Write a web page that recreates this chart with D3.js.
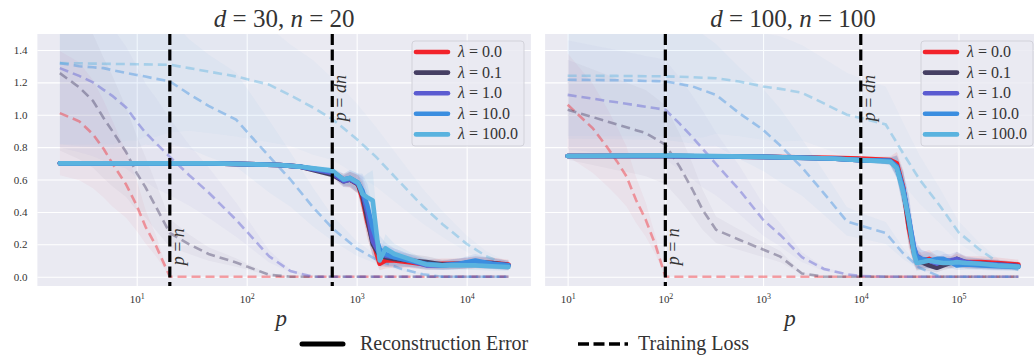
<!DOCTYPE html>
<html>
<head>
<meta charset="utf-8">
<script src="https://cdn.jsdelivr.net/npm/d3@7"></script>
<style>
  body { margin: 0; background: #fff; }
  svg { display: block; }
  svg text { font-family: 'Liberation Serif', 'Times New Roman', Tinos, 'DejaVu Serif', 'Noto Serif', FreeSerif, serif; }
</style>
</head>
<body>
<svg id="chart"></svg>
<script>
// ---- data ----
const lambdas = ['0.0', '0.1', '1.0', '10.0', '100.0'];
const colors = ['#f2232b', '#463f63', '#5b5bd1', '#3b8ee0', '#5ab3df'];

const yTicks = [0.0, 0.2, 0.4, 0.6, 0.8, 1.0, 1.2, 1.4];
const xTicksL = [1e1, 1e2, 1e3, 1e4];
const xTicksR = [1e1, 1e2, 1e3, 1e4, 1e5];

// d = 30, n = 20
const marksL = [20, 600]; // p = n, p = dn
const pLossL = [2, 3, 4, 5, 6, 8, 10, 12, 15, 20, 30, 45, 80, 160, 250, 400, 600, 1000, 1500, 2500, 4000, 6000, 10000, 15000, 24000];
const lossL0 = [1.01, 0.96, 0.88, 0.79, 0.70, 0.57, 0.44, 0.31, 0.19, 0.0, 0, 0, 0, 0, 0, 0, 0, 0, 0, 0, 0, 0, 0, 0, 0];
const lossL1 = [1.257, 1.17, 1.086, 0.98, 0.90, 0.77, 0.64, 0.553, 0.43, 0.27, 0.20, 0.14, 0.088, 0.012, 0, 0, 0, 0, 0, 0, 0, 0, 0, 0, 0];
const lossL2 = [1.288, 1.24, 1.2, 1.154, 1.117, 1.045, 0.957, 0.89, 0.824, 0.74, 0.627, 0.52, 0.352, 0.126, 0.035, 0, 0, 0, 0, 0, 0, 0, 0, 0, 0];
const lossL3 = [1.319, 1.30, 1.293, 1.288, 1.276, 1.259, 1.246, 1.236, 1.222, 1.206, 1.128, 1.055, 0.97, 0.743, 0.60, 0.43, 0.30, 0.175, 0.107, 0.05, 0.015, 0, 0, 0, 0];
const lossL4 = [1.319, 1.318, 1.316, 1.315, 1.314, 1.313, 1.312, 1.311, 1.31, 1.309, 1.288, 1.267, 1.237, 1.186, 1.12, 1.045, 0.974, 0.85, 0.74, 0.58, 0.435, 0.326, 0.203, 0.127, 0.07];
const spreadLossL = [0.38, 0.38, 0.38, 0.38, 0.38, 0.36, 0.36, 0.34, 0.34, 0.32, 0.3, 0.3, 0.3, 0.3, 0.28, 0.28, 0.26, 0.26, 0.25, 0.25, 0.25, 0.25, 0.25, 0.25, 0.25];

const pReconL = [2, 10, 50, 200, 300, 600, 760, 870, 1030, 1130, 1250, 1400, 1620, 1830, 2200, 3000, 4300, 6000, 8500, 12000, 17000, 24000];
const reconL0 = [0.70, 0.70, 0.70, 0.69, 0.68, 0.64, 0.60, 0.60, 0.57, 0.48, 0.34, 0.22, 0.08, 0.10, 0.10, 0.09, 0.075, 0.08, 0.08, 0.085, 0.085, 0.075];
const reconL1 = [0.70, 0.70, 0.70, 0.69, 0.68, 0.63, 0.59, 0.60, 0.57, 0.50, 0.36, 0.20, 0.13, 0.12, 0.11, 0.10, 0.09, 0.075, 0.08, 0.09, 0.085, 0.07];
const reconL2 = [0.70, 0.70, 0.70, 0.69, 0.68, 0.64, 0.59, 0.60, 0.575, 0.52, 0.40, 0.22, 0.14, 0.13, 0.12, 0.10, 0.07, 0.07, 0.08, 0.09, 0.08, 0.07];
const reconL3 = [0.70, 0.70, 0.70, 0.69, 0.68, 0.65, 0.60, 0.61, 0.58, 0.53, 0.44, 0.30, 0.17, 0.14, 0.12, 0.10, 0.08, 0.07, 0.08, 0.10, 0.08, 0.07];
const reconL4 = [0.70, 0.70, 0.70, 0.69, 0.68, 0.655, 0.60, 0.61, 0.58, 0.51, 0.49, 0.47, 0.10, 0.175, 0.14, 0.11, 0.075, 0.07, 0.07, 0.07, 0.065, 0.06];
const spreadReconL = [0.01, 0.01, 0.01, 0.01, 0.015, 0.03, 0.06, 0.08, 0.1, 0.2, 0.3, 0.4, 0.5, 0.5, 0.45, 0.4, 0.4, 0.4, 0.4, 0.4, 0.4, 0.4];

// d = 100, n = 100
const marksR = [100, 10000];
const pLossR = [10, 18, 25, 32, 40, 50, 63, 80, 100, 140, 190, 240, 330, 570, 1000, 1500, 2500, 4200, 7200, 10000, 18000, 27000, 40000, 65000, 100000, 165000, 260000, 410000];
const lossR0 = [1.062, 0.918, 0.805, 0.712, 0.62, 0.475, 0.352, 0.188, 0, 0, 0, 0, 0, 0, 0, 0, 0, 0, 0, 0, 0, 0, 0, 0, 0, 0, 0, 0];
const lossR1 = [1.031, 0.986, 0.96, 0.94, 0.923, 0.905, 0.887, 0.85, 0.815, 0.68, 0.537, 0.414, 0.29, 0.228, 0.168, 0.124, 0.02, 0, 0, 0, 0, 0, 0, 0, 0, 0, 0, 0];
const lossR2 = [1.123, 1.10, 1.086, 1.077, 1.068, 1.059, 1.049, 1.04, 1.031, 0.945, 0.86, 0.79, 0.696, 0.537, 0.352, 0.258, 0.12, 0.048, 0.015, 0.005, 0, 0, 0, 0, 0, 0, 0, 0];
const lossR3 = [1.216, 1.215, 1.214, 1.213, 1.212, 1.211, 1.209, 1.208, 1.206, 1.19, 1.175, 1.153, 1.123, 1.01, 0.907, 0.81, 0.675, 0.515, 0.342, 0.315, 0.27, 0.146, 0.055, 0, 0, 0, 0, 0];
const lossR4 = [1.241, 1.241, 1.240, 1.240, 1.239, 1.239, 1.238, 1.238, 1.237, 1.235, 1.232, 1.229, 1.226, 1.205, 1.175, 1.16, 1.136, 1.07, 1.0, 0.98, 0.94, 0.764, 0.60, 0.435, 0.275, 0.167, 0.085, 0.043];
const spreadLossR = [0.3, 0.3, 0.3, 0.3, 0.3, 0.3, 0.3, 0.3, 0.3, 0.3, 0.3, 0.3, 0.28, 0.28, 0.28, 0.28, 0.26, 0.26, 0.26, 0.25, 0.25, 0.25, 0.25, 0.25, 0.25, 0.25, 0.25, 0.25];

const pReconR = [10, 100, 1000, 5000, 10000, 20000, 23400, 27200, 31000, 35000, 37400, 42000, 50000, 60000, 70000, 83000, 96000, 120000, 170000, 250000, 410000];
const reconR0 = [0.745, 0.745, 0.74, 0.735, 0.73, 0.72, 0.70, 0.55, 0.30, 0.15, 0.10, 0.10, 0.11, 0.085, 0.09, 0.09, 0.10, 0.09, 0.09, 0.085, 0.075];
const reconR1 = [0.745, 0.745, 0.74, 0.73, 0.72, 0.715, 0.68, 0.54, 0.33, 0.16, 0.11, 0.09, 0.07, 0.055, 0.07, 0.085, 0.11, 0.085, 0.08, 0.075, 0.065];
const reconR2 = [0.745, 0.745, 0.74, 0.73, 0.72, 0.715, 0.68, 0.54, 0.36, 0.18, 0.13, 0.11, 0.10, 0.08, 0.10, 0.10, 0.11, 0.09, 0.08, 0.075, 0.065];
const reconR3 = [0.745, 0.745, 0.74, 0.73, 0.72, 0.715, 0.68, 0.54, 0.36, 0.18, 0.12, 0.11, 0.10, 0.11, 0.11, 0.09, 0.07, 0.075, 0.07, 0.065, 0.06];
const reconR4 = [0.745, 0.75, 0.74, 0.73, 0.72, 0.71, 0.67, 0.52, 0.35, 0.14, 0.085, 0.09, 0.10, 0.09, 0.085, 0.085, 0.09, 0.085, 0.08, 0.07, 0.062];
const spreadReconR = [0.01, 0.01, 0.01, 0.01, 0.015, 0.03, 0.1, 0.2, 0.4, 0.5, 0.6, 0.5, 0.5, 0.5, 0.4, 0.4, 0.4, 0.4, 0.4, 0.4, 0.4];

// ---- layout ----
const width = 1034, height = 359;
const plotTop = 34, plotBottom = 286;

const panels = [
    { title: [['d', true], [' = 30, ', false], ['n', true], [' = 20', false]],
      left: 37.4, right: 530.9, pLoss: pLossL, loss: [lossL0, lossL1, lossL2, lossL3, lossL4], spreadLoss: spreadLossL,
      pRecon: pReconL, recon: [reconL0, reconL1, reconL2, reconL3, reconL4], spreadRecon: spreadReconL,
      marks: marksL, xTicks: xTicksL, yLabels: true, legendX: 412 },
    { title: [['d', true], [' = 100, ', false], ['n', true], [' = 100', false]],
      left: 545.1, right: 1040.9, pLoss: pLossR, loss: [lossR0, lossR1, lossR2, lossR3, lossR4], spreadLoss: spreadLossR,
      pRecon: pReconR, recon: [reconR0, reconR1, reconR2, reconR3, reconR4], spreadRecon: spreadReconR,
      marks: marksR, xTicks: xTicksR, yLabels: false, legendX: 921 }
];

const svg = d3.select('#chart')
    .attr('width', width).attr('height', height);

const y = d3.scaleLinear().domain([-0.0574, 1.4988]).range([plotBottom, plotTop]);

// log x domain padded by 5% on each side like matplotlib
const paddedLog = (ps) => {
    const lo = Math.log10(d3.min(ps)), hi = Math.log10(d3.max(ps));
    const m = (hi - lo) * 0.05;
    return [Math.pow(10, lo - m), Math.pow(10, hi + m)];
};

const addMath = (sel, parts) => {
    parts.forEach(([t, it]) => {
        sel.append('tspan').attr('font-style', it ? 'italic' : 'normal').text(t);
    });
};

panels.forEach((pn, k) => {
    const x = d3.scaleLog()
        .domain(paddedLog(pn.pRecon.concat(pn.pLoss)))
        .range([pn.left, pn.right]);

    const g = svg.append('g');
    const clipId = 'clip' + k;
    svg.append('clipPath').attr('id', clipId)
        .append('rect')
        .attr('x', pn.left).attr('y', plotTop)
        .attr('width', pn.right - pn.left).attr('height', plotBottom - plotTop);

    g.append('rect')
        .attr('x', pn.left).attr('y', plotTop)
        .attr('width', pn.right - pn.left).attr('height', plotBottom - plotTop)
        .attr('fill', '#eaeaf2');

    // grid
    g.append('g')
        .attr('transform', `translate(0,${plotBottom})`)
        .call(d3.axisBottom(x).tickValues(pn.xTicks).tickSize(-(plotBottom - plotTop)).tickFormat(''))
        .call(a => a.select('.domain').remove())
        .call(a => a.selectAll('line').attr('stroke', '#fff').attr('stroke-width', 1.1));
    g.append('g')
        .attr('transform', `translate(${pn.left},0)`)
        .call(d3.axisLeft(y).tickValues(yTicks).tickSize(-(pn.right - pn.left)).tickFormat(''))
        .call(a => a.select('.domain').remove())
        .call(a => a.selectAll('line').attr('stroke', '#fff').attr('stroke-width', 1.1));

    // tick labels
    const xa = g.append('g')
        .attr('transform', `translate(0,${plotBottom})`)
        .call(d3.axisBottom(x).tickValues(pn.xTicks).tickSize(0).tickPadding(9));
    xa.select('.domain').remove();
    xa.selectAll('.tick text')
        .attr('font-size', 11).attr('fill', '#333')
        .each(function (d) {
            const t = d3.select(this);
            t.text('10');
            t.append('tspan').attr('dy', '-0.45em').attr('font-size', '0.72em').text(Math.round(Math.log10(d)));
        });

    if (pn.yLabels) {
        const ya = g.append('g')
            .attr('transform', `translate(${pn.left},0)`)
            .call(d3.axisLeft(y).tickValues(yTicks).tickSize(0).tickPadding(10).tickFormat(d3.format('.1f')));
        ya.select('.domain').remove();
        ya.selectAll('.tick text').attr('font-size', 11).attr('fill', '#333');
    }

    const body = g.append('g').attr('clip-path', `url(#${clipId})`);

    const line = (ps) => d3.line().x((v, i) => x(ps[i])).y(v => y(v));
    const band = (ps, sp) => d3.area()
        .x((v, i) => x(ps[i]))
        .y0((v, i) => y(v * (1 - sp[i])))
        .y1((v, i) => y(v * (1 + sp[i])));

    // shaded spreads
    pn.loss.forEach((vals, i) => {
        body.append('path').datum(vals)
            .attr('d', band(pn.pLoss, pn.spreadLoss))
            .attr('fill', colors[i]).attr('fill-opacity', 0.04);
    });
    pn.recon.forEach((vals, i) => {
        body.append('path').datum(vals)
            .attr('d', band(pn.pRecon, pn.spreadRecon))
            .attr('fill', colors[i]).attr('fill-opacity', 0.1);
    });

    // training loss (dashed)
    pn.loss.forEach((vals, i) => {
        body.append('path').datum(vals)
            .attr('d', line(pn.pLoss))
            .attr('fill', 'none')
            .attr('stroke', colors[i]).attr('stroke-opacity', 0.42)
            .attr('stroke-width', 2.6)
            .attr('stroke-dasharray', '9,5');
    });

    // reconstruction error (solid)
    pn.recon.forEach((vals, i) => {
        body.append('path').datum(vals)
            .attr('d', line(pn.pRecon))
            .attr('fill', 'none')
            .attr('stroke', colors[i])
            .attr('stroke-width', 4.6)
            .attr('stroke-linejoin', 'round')
            .attr('stroke-linecap', 'round');
    });

    // p = n and p = dn markers
    const markLabels = [[['p', true], [' = ', false], ['n', true]], [['p', true], [' = ', false], ['dn', true]]];
    const markLabelY = [0.07, 0.96];
    pn.marks.forEach((m, j) => {
        body.append('line')
            .attr('x1', x(m)).attr('x2', x(m))
            .attr('y1', plotTop).attr('y2', plotBottom)
            .attr('stroke', '#000').attr('stroke-width', 3.2)
            .attr('stroke-dasharray', '11,4.5');
        const t = g.append('text')
            .attr('transform', `translate(${x(m) + 14},${y(markLabelY[j])}) rotate(-90)`)
            .attr('font-size', 18).attr('fill', '#333');
        addMath(t, markLabels[j]);
    });

    // title
    const title = svg.append('text')
        .attr('x', (pn.left + pn.right) / 2).attr('y', 27)
        .attr('text-anchor', 'middle')
        .attr('font-size', 25).attr('fill', '#333');
    addMath(title, pn.title);

    // axis label
    svg.append('text')
        .attr('x', (pn.left + pn.right) / 2 - 3).attr('y', 326)
        .attr('text-anchor', 'middle')
        .attr('font-size', 23).attr('font-style', 'italic').attr('fill', '#333')
        .text('p');

    // legend
    const lg = svg.append('g');
    lg.append('rect')
        .attr('x', pn.legendX).attr('y', 41)
        .attr('width', 112).attr('height', 105)
        .attr('rx', 3)
        .attr('fill', '#eaeaf2').attr('fill-opacity', 0.85)
        .attr('stroke', '#d2d2da').attr('stroke-width', 1);
    lambdas.forEach((lam, i) => {
        const ly = 52 + i * 20.6;
        lg.append('line')
            .attr('x1', pn.legendX + 4).attr('x2', pn.legendX + 36)
            .attr('y1', ly).attr('y2', ly)
            .attr('stroke', colors[i]).attr('stroke-width', 4.6)
            .attr('stroke-linecap', 'round');
        const t = lg.append('text')
            .attr('x', pn.legendX + 46).attr('y', ly + 5)
            .attr('font-size', 16).attr('fill', '#333');
        addMath(t, [['λ', true], [' = ' + lam, false]]);
    });
});

// figure legend
const fl = svg.append('g');
fl.append('line')
    .attr('x1', 302).attr('x2', 343).attr('y1', 344).attr('y2', 344)
    .attr('stroke', '#000').attr('stroke-width', 5).attr('stroke-linecap', 'round');
fl.append('text').attr('x', 360).attr('y', 350).attr('font-size', 20).attr('fill', '#333')
    .text('Reconstruction Error');
fl.append('line')
    .attr('x1', 578).attr('x2', 628).attr('y1', 344).attr('y2', 344)
    .attr('stroke', '#000').attr('stroke-width', 3.5).attr('stroke-dasharray', '11,4.5');
fl.append('text').attr('x', 638).attr('y', 350).attr('font-size', 20).attr('fill', '#333')
    .text('Training Loss');
</script>
</body>
</html>
